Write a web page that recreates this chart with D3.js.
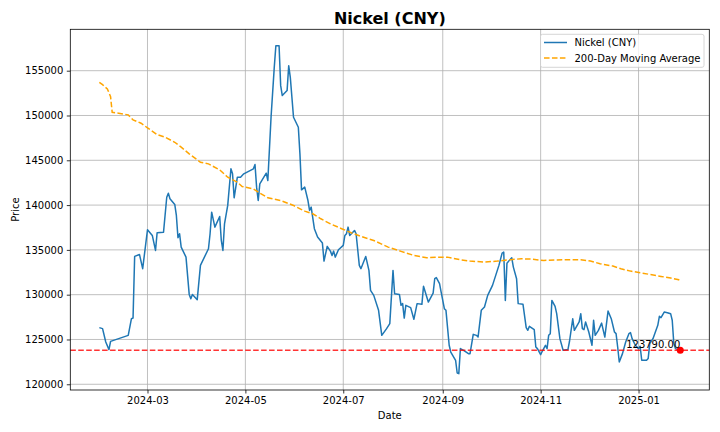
<!DOCTYPE html>
<html>
<head>
<meta charset="utf-8">
<script src="https://cdn.jsdelivr.net/npm/d3@7"></script>
<style>
  body { margin: 0; background: #fff; }
  svg { font-family: "DejaVu Sans", sans-serif; }
</style>
</head>
<body>
<div id="chart"></div>
<script>
// daily close
const dates = [
  '2024-01-31','2024-02-02','2024-02-04','2024-02-06','2024-02-07','2024-02-18','2024-02-20','2024-02-21',
  '2024-02-22','2024-02-25','2024-02-27','2024-03-01','2024-03-04','2024-03-06','2024-03-07','2024-03-11',
  '2024-03-13','2024-03-14','2024-03-15','2024-03-18','2024-03-19','2024-03-20','2024-03-21','2024-03-22',
  '2024-03-25','2024-03-27','2024-03-28','2024-03-29','2024-04-01','2024-04-03','2024-04-08','2024-04-09',
  '2024-04-10','2024-04-12','2024-04-15','2024-04-16','2024-04-17','2024-04-18','2024-04-20','2024-04-22',
  '2024-04-23','2024-04-24','2024-04-26','2024-04-28','2024-04-30','2024-05-06','2024-05-07','2024-05-08',
  '2024-05-09','2024-05-10','2024-05-14','2024-05-15','2024-05-17','2024-05-19','2024-05-20','2024-05-22',
  '2024-05-23','2024-05-24','2024-05-27','2024-05-28','2024-05-29','2024-05-31','2024-06-03','2024-06-04',
  '2024-06-05','2024-06-07','2024-06-09','2024-06-10','2024-06-11','2024-06-13','2024-06-15','2024-06-18',
  '2024-06-19','2024-06-21','2024-06-23','2024-06-24','2024-06-25','2024-06-26','2024-06-28','2024-07-01',
  '2024-07-02','2024-07-03','2024-07-04','2024-07-05','2024-07-08','2024-07-09','2024-07-11','2024-07-12',
  '2024-07-15','2024-07-17','2024-07-18','2024-07-20','2024-07-23','2024-07-25','2024-07-28','2024-07-30',
  '2024-08-01','2024-08-02','2024-08-05','2024-08-06','2024-08-07','2024-08-08','2024-08-09','2024-08-12',
  '2024-08-14','2024-08-16','2024-08-19','2024-08-20','2024-08-23','2024-08-26','2024-08-27','2024-08-28',
  '2024-08-30','2024-08-31','2024-09-02','2024-09-03','2024-09-05','2024-09-06','2024-09-09','2024-09-10',
  '2024-09-11','2024-09-12','2024-09-14','2024-09-17','2024-09-18','2024-09-20','2024-09-22','2024-09-23',
  '2024-09-25','2024-09-27','2024-09-29','2024-10-02','2024-10-06','2024-10-08','2024-10-09','2024-10-10',
  '2024-10-11','2024-10-14','2024-10-15','2024-10-17','2024-10-18','2024-10-21','2024-10-23','2024-10-24',
  '2024-10-25','2024-10-28','2024-10-29','2024-10-30','2024-11-01','2024-11-02','2024-11-04','2024-11-05',
  '2024-11-06','2024-11-07','2024-11-08','2024-11-10','2024-11-11','2024-11-13','2024-11-15','2024-11-18',
  '2024-11-19','2024-11-21','2024-11-22','2024-11-25','2024-11-26','2024-11-27','2024-11-28','2024-11-29',
  '2024-12-01','2024-12-03','2024-12-04','2024-12-05','2024-12-07','2024-12-09','2024-12-11','2024-12-13',
  '2024-12-15','2024-12-17','2024-12-18','2024-12-19','2024-12-20','2024-12-22','2024-12-24','2024-12-26',
  '2024-12-27','2024-12-28','2024-12-30','2025-01-01','2025-01-02','2025-01-03','2025-01-06','2025-01-07',
  '2025-01-08','2025-01-10','2025-01-13','2025-01-14','2025-01-15','2025-01-17','2025-01-19','2025-01-21',
  '2025-01-22','2025-01-23','2025-01-24','2025-01-27'
]
const prices = [
  126320,126210,124720,123870,124790,125460,127320,127390,
  134270,134490,132900,137250,136610,134940,136910,136980,
  140880,141330,140700,140070,138840,136350,136800,135310,
  134190,130030,129550,130030,129440,133270,135130,136800,
  139210,137540,138730,136050,134940,137910,139960,144050,
  143490,140810,143110,143110,143490,144050,144530,142000,
  140510,142370,143560,142740,149800,155370,157790,157790,
  153330,152220,152780,155560,154260,149800,148690,145720,
  141700,142000,140510,139400,139770,137360,136430,135760,
  133750,135390,134860,134380,134860,134190,135020,135500,
  136610,136800,137540,136610,137170,136800,133270,132900,
  134270,132710,130480,129920,128250,125460,126210,126770,
  132710,130110,130030,128810,129000,127390,128810,128550,
  127250,129000,128920,130930,129180,130180,131780,131900,
  131230,130290,128440,128250,124350,123600,122680,121260,
  121190,123980,123790,123420,123420,125570,125460,125270,
  128250,128620,129920,131040,133270,134640,134750,129360,
  133520,134120,133080,131780,129000,128920,126320,126020,
  126470,126100,124160,123980,123310,123680,124350,123980,
  125460,125650,129360,128700,127880,125090,123790,123870,
  124800,127300,126020,126950,127880,126210,126100,126950,
  125830,124350,127140,125460,126020,126830,125270,128170,
  127320,125830,125650,124160,122490,123420,124720,125650,
  125760,125090,124350,123980,124240,122680,122680,122870,
  124540,125090,126580,127580,127440,128060,127990,127880,
  127140,124540,123980,123790
]

// 200-day moving average
const maDates = [
  '2024-01-31','2024-02-02','2024-02-05','2024-02-07','2024-02-08','2024-02-12','2024-02-18','2024-02-21',
  '2024-02-26','2024-03-01','2024-03-07','2024-03-12','2024-03-18','2024-03-22','2024-03-27','2024-04-03',
  '2024-04-08','2024-04-15','2024-04-20','2024-04-26','2024-04-29','2024-05-06','2024-05-10','2024-05-15',
  '2024-05-23','2024-05-31','2024-06-07','2024-06-12','2024-06-17','2024-06-23','2024-06-30','2024-07-06',
  '2024-07-12','2024-07-20','2024-07-29','2024-08-06','2024-08-14','2024-08-22','2024-08-31','2024-09-04',
  '2024-09-12','2024-09-18','2024-09-27','2024-10-05','2024-10-13','2024-10-20','2024-10-26','2024-11-03',
  '2024-11-15','2024-11-26','2024-12-02','2024-12-08','2024-12-16','2024-12-21','2024-12-27','2025-01-02',
  '2025-01-08','2025-01-15','2025-01-21','2025-01-26','2025-01-27'
]
const maValues = [
  153700,153440,152960,152100,150360,150250,150070,149510,
  149140,148620,147870,147570,147010,146460,145720,144780,
  144600,143930,143110,142550,142070,141810,141330,140810,
  140510,139960,139320,139030,138470,137910,137360,136910,
  136500,136050,135310,134830,134380,134120,134190,134190,
  133900,133750,133640,133750,133900,134010,133970,133820,
  133900,133900,133750,133460,133190,132900,132630,132450,
  132260,132040,131850,131670,131400
]

const lastPrice = 123790
const yTicks = [120000, 125000, 130000, 135000, 140000, 145000, 150000, 155000]
const legendLabels = ['Nickel (CNY)', '200-Day Moving Average']

const margin = { top: 29.3, right: 10.7, bottom: 42, left: 70.3 }
const width = 720 - margin.left - margin.right
const height = 432 - margin.top - margin.bottom

const parse = d3.timeParse('%Y-%m-%d')
const priceData = dates.map((d, i) => ({ date: parse(d), value: prices[i] }))
const maData = maDates.map((d, i) => ({ date: parse(d), value: maValues[i] }))

const svg = d3.select('#chart')
    .append('svg')
    .attr('width', 720)
    .attr('height', 432)

const g = svg.append('g')
    .attr('transform', `translate(${margin.left}, ${margin.top})`)

// matplotlib style 5% margins on both axes
const [x0, x1] = d3.extent(priceData, d => d.date)
const xPad = (x1 - x0) * 0.05
const x = d3.scaleTime()
    .domain([new Date(+x0 - xPad), new Date(+x1 + xPad)])
    .range([0, width])

const yMin = d3.min(priceData.concat(maData), d => d.value)
const yMax = d3.max(priceData.concat(maData), d => d.value)
const yPad = (yMax - yMin) * 0.05
const y = d3.scaleLinear()
    .domain([yMin - yPad, yMax + yPad])
    .range([height, 0])

const xTicks = x.ticks(d3.timeMonth.every(2))

// grid
g.append('g')
    .selectAll('line')
    .data(xTicks)
    .enter().append('line')
    .attr('x1', d => x(d)).attr('x2', d => x(d))
    .attr('y1', 0).attr('y2', height)
    .attr('stroke', '#b0b0b0').attr('stroke-width', 0.8)

g.append('g')
    .selectAll('line')
    .data(yTicks)
    .enter().append('line')
    .attr('x1', 0).attr('x2', width)
    .attr('y1', d => y(d)).attr('y2', d => y(d))
    .attr('stroke', '#b0b0b0').attr('stroke-width', 0.8)

const line = d3.line()
    .x(d => x(d.date))
    .y(d => y(d.value))

g.append('path')
    .datum(priceData)
    .attr('fill', 'none')
    .attr('stroke', '#1f77b4')
    .attr('stroke-width', 1.5)
    .attr('stroke-linejoin', 'round')
    .attr('d', line)

g.append('path')
    .datum(maData)
    .attr('fill', 'none')
    .attr('stroke', 'orange')
    .attr('stroke-width', 1.5)
    .attr('stroke-dasharray', '5.55,2.4')
    .attr('d', line)

// current price line
g.append('line')
    .attr('x1', 0).attr('x2', width)
    .attr('y1', y(lastPrice)).attr('y2', y(lastPrice))
    .attr('stroke', 'red')
    .attr('stroke-opacity', 0.8)
    .attr('stroke-width', 1.5)
    .attr('stroke-dasharray', '5.55,2.4')

const last = priceData[priceData.length - 1]
g.append('circle')
    .attr('cx', x(last.date))
    .attr('cy', y(last.value))
    .attr('r', 3.5)
    .attr('fill', 'red')

g.append('text')
    .attr('x', x(last.date))
    .attr('y', y(last.value) - 2)
    .attr('text-anchor', 'end')
    .style('font-size', '10px')
    .text(lastPrice.toFixed(2))

// axes
const bottomAxis = d3.axisBottom(x)
    .tickValues(xTicks)
    .tickFormat(d3.timeFormat('%Y-%m'))
    .tickSize(3.5)
    .tickPadding(3.5)

const leftAxis = d3.axisLeft(y)
    .tickValues(yTicks)
    .tickFormat(d3.format('d'))
    .tickSize(3.5)
    .tickPadding(3.5)

const bottomAxisGroup = g.append('g')
    .attr('transform', `translate(0, ${height})`)
    .call(bottomAxis)

const leftAxisGroup = g.append('g')
    .call(leftAxis)

for (const ax of [bottomAxisGroup, leftAxisGroup]) {
    ax.select('.domain').remove()
    ax.selectAll('line').attr('stroke', '#000').attr('stroke-width', 0.8)
    ax.selectAll('text').style('font-size', '10px').style('font-family', '"DejaVu Sans", sans-serif').attr('fill', '#000')
}

// frame
g.append('rect')
    .attr('width', width)
    .attr('height', height)
    .attr('fill', 'none')
    .attr('stroke', '#000')
    .attr('stroke-width', 0.8)

svg.append('text')
    .attr('x', margin.left + width / 2)
    .attr('y', 23.5)
    .attr('text-anchor', 'middle')
    .style('font-size', '16px')
    .style('font-weight', 'bold')
    .text('Nickel (CNY)')

svg.append('text')
    .attr('x', margin.left + width / 2)
    .attr('y', 419)
    .attr('text-anchor', 'middle')
    .style('font-size', '10px')
    .text('Date')

svg.append('text')
    .attr('x', -(margin.top + height / 2))
    .attr('y', 19)
    .attr('text-anchor', 'middle')
    .attr('transform', 'rotate(-90)')
    .style('font-size', '10px')
    .text('Price')

// legend
const legend = svg.append('g')
    .attr('transform', 'translate(540.5, 34.3)')

legend.append('rect')
    .attr('width', 163.5)
    .attr('height', 33)
    .attr('rx', 2)
    .attr('fill', '#fff')
    .attr('fill-opacity', 0.8)
    .attr('stroke', '#cccccc')
    .attr('stroke-width', 0.8)

const legendStyles = [
    { color: '#1f77b4', dash: null },
    { color: 'orange', dash: '5.55,2.4' }
]

legendLabels.forEach((label, i) => {
    const yy = 8.2 + i * 15.5
    legend.append('line')
        .attr('x1', 3.5).attr('x2', 26.5)
        .attr('y1', yy).attr('y2', yy)
        .attr('stroke', legendStyles[i].color)
        .attr('stroke-width', 1.5)
        .attr('stroke-dasharray', legendStyles[i].dash)
    legend.append('text')
        .attr('x', 34)
        .attr('y', yy + 3.6)
        .style('font-size', '10px')
        .text(label)
})
</script>
</body>
</html>
